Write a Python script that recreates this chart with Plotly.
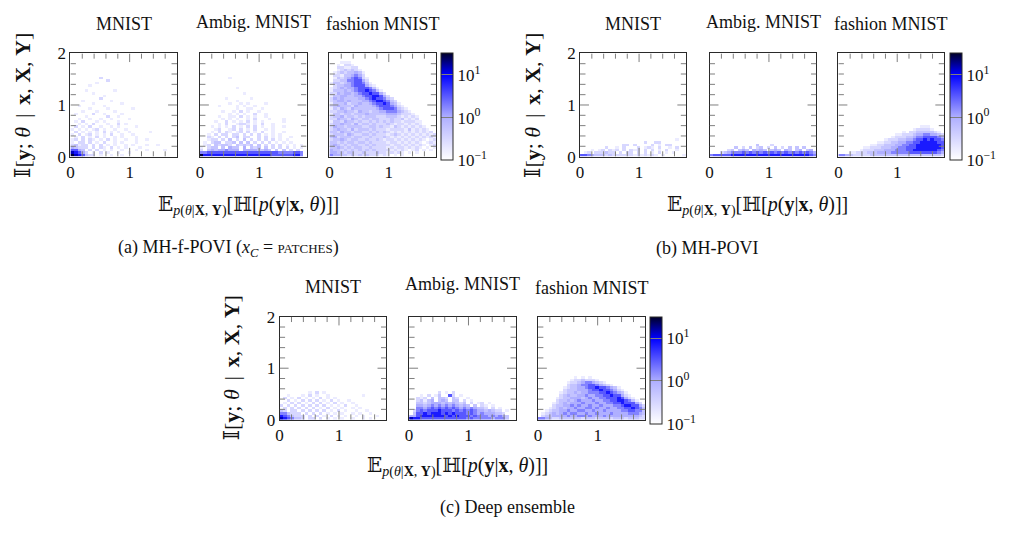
import plotly.graph_objects as go

# ---------------- data ----------------
# 2-D histogram intensity levels. One string per row of bins, TOP row first.
# '.' = empty bin, '1'..'9' = increasing density level (log colour scale).
# x bins are 0.06 wide on [0, 1.8]; y bins are 0.05 tall starting at 0.
DATASETS = ["MNIST", "Ambig. MNIST", "fashion MNIST"]
METHODS = ["(a) MH-f-POVI (<i>x</i><sub><i>C</i></sub> = <span style='font-size:13px'>PATCHES</span>)",
           "(b) MH-POVI", "(c) Deep ensemble"]
CB_TICKVALS = [-1, 0, 1]
CB_TICKTEXT = ["10<sup>−1</sup>", "10<sup>0</sup>", "10<sup>1</sup>"]
X_RANGE = [0, 1.8]
Y_RANGE = [0, 2]
MAJOR_STEP = 1
MINOR_STEP = 0.2
# level -> log10(count)
LEVEL_LOG = {"1": -0.75, "2": -0.5, "3": -0.25, "4": 0.0, "5": 0.25,
             "6": 0.5, "7": 0.85, "8": 1.15, "9": 1.45}

A1 = [
 "..... ...2. ..... ..... ..... .....",
 "..... ..... 2.... ..... ..... .....",
 "..... ..1.. ..... ..... ..... .....",
 "..... 1.... ..... ..... ..... .....",
 "..... ..... ..... ..... ..... .....",
 "....1 ..... ..1.. ..... ..... .....",
 "..... .1... ..... ..... ..... .....",
 "..... ....1 ..... ..... ..... .....",
 "..... ...2. ..... ..... ..... .....",
 "...1. ..... .1... ..... ..... .....",
 "..... .1... ....1 ..... ..... .....",
 "..1.. ....1 ..... ..... ..... .....",
 "..... 1.... 1.... ..1.. ..... .....",
 "...1. ..1.. ..1.. ..... ..... .....",
 ".1... .2..1 ....1 ..... ..... .....",
 "....1 ..... 2..1. ..... ..... .....",
 "..1.. 1..1. .1... .1... ..... .....",
 ".1.2. ..1.1 ...1. ..... ..... .....",
 "..1.1 .2... 1..2. 1.... ..... .....",
 ".2.1. 2..1. .1.1. ...1. ..... .....",
 "1.1.1 .12.1 ..1.. 1.... ..... .....",
 ".2.1. 1.1.2 .1.1. .1... ..1.. .....",
 "1.2.1 2.1.1 .2..1 ..1.. ..... .....",
 ".1.2. 1.2.1 ..1.1 ...1. ..... .....",
 "12.2. 21.1. 2.1.. 1..1. .1... .....",
 "1.22. 2.1.2 ..1.1 ...1. ..... .....",
 "23122 .2.2. 1.1.. 1.1.. .1..1 .....",
 "43222 .2.21 .2.1. 1...1 ..... .....",
 "6643. 2.2.1 .1..1 ...1. .1... .1...",
 "87642 .1.2. 1..1. .1... ..... .....",
 "98763 22.1. .1..1 ..... ..... .....",
]

A2 = [
 "..... ...1. ..... ..... ..... .....",
 "..... ..... ..... ..... ..... .....",
 "..... ..... ..... ..... ..... .....",
 "..... ..... ..... ..... ..... .....",
 "..... ..... 1.... ..... ..... .....",
 "..... ..... ..... ..... ..... .....",
 "..... ..... ..1.. ..... ..... .....",
 "..... ..... ..... ..... ..... .....",
 "..... ..1.. ....1 ..... ..... .....",
 "..... ..... 1.... ..... ..... .....",
 "..... ...1. .1.1. ...1. ..... .....",
 "..... 1.... 1.1.. 1.... ..... .....",
 "..... ..... 1..11 ..1.. ..... .....",
 "..... .1..1 .2.1. .1... ..... .....",
 "..... ...1. 1.1.. 2..1. ..... .....",
 "..... 1..11 .2.1. 1..1. ..... .....",
 "..... .1.1. 1..1. 2...1 ...1. .....",
 "....1 ..2.1 .1.2. 1.1.. ...1. .....",
 "..... 1.2.. 1221. 1.2.. 1.... .....",
 "...1. 1.1.2 .1.2. 2.1.. 1..1. .....",
 "....1 2..12 .2.1. 2..1. 1.... .....",
 "...1. 2.21. 12.2. 1.2.. 1..1. .....",
 "..1.2 .22.2 2.2.2 .2.1. 1.1.. .....",
 "..21. 2.2.2 3.22. .2.2. 1.1.. 1....",
 "..122 .2.3. 2.3.2 .2.2. 2.1.1 .....",
 ".1.23 3.223 .3.3. 2.2.2 .1.1. 1....",
 ".12.3 2332. 32323 .3.2. 2.2.1 .1.1.",
 "1.233 .3.43 3.4.3 23.3. 2.2.2 .1.1.",
 "2.343 44544 4.444 43343 .3.3. 2.2..",
 "55666 66666 66666 66666 66555 5665.",
 "97777 77777 77777 77777 66666 6775.",
]

A3 = [
 "...11 1.... ..... ..... ..... .....",
 "..1.2 21... ..... ..... ..... .....",
 "..221 122.. ..... ..... ..... .....",
 "..123 2321. ..... ..... ..... .....",
 ".1232 33431 ..... ..... ..... .....",
 ".2213 34542 ..... ..... ..... .....",
 ".1323 45652 1.... ..... ..... .....",
 ".2233 55664 2.... ..... ..... .....",
 "13323 45665 31... ..... ..... .....",
 ".2334 45666 421.. ..... ..... .....",
 "12343 44566 6531. ..... ..... .....",
 "13334 34566 76531 ..... ..... .....",
 "22434 43456 67664 2.... ..... .....",
 "13344 33445 66776 42... ..... .....",
 "24343 33344 56766 532.. ..... .....",
 "23443 43334 45677 6532. ..... .....",
 "13334 23343 34566 76431 ..... .....",
 "23433 32433 33456 66542 1.... .....",
 "13243 24333 33345 66653 21... .....",
 "22334 33243 32334 45554 321.. .....",
 "13323 32333 43333 34443 2221. .....",
 "23342 33232 33322 23332 12121 .....",
 "22433 24323 32332 22322 31212 .....",
 "13324 33232 23232 32322 12221 1....",
 "23343 32423 32322 23212 21212 1....",
 "24332 33332 23323 22132 12121 21...",
 "23433 24233 32322 21222 21312 121..",
 "33243 32332 23232 32121 21212 1212.",
 "23332 43223 32322 21232 12121 21212",
 "34233 32332 23222 32121 21212 12121",
 "23343 23322 32232 12212 12121 21.12",
 "33232 33233 23222 21221 21212 1.121",
 "34323 23322 32322 22122 12121 21.12",
 "33432 32332 23222 21212 21212 1.1.1",
 "43323 23232 32322 22121 21.12 .1.1.",
 "44332 33223 22232 21212 1.1.1 .....",
 "54433 23232 32221 21.1. 1.... .....",
]

B1 = [
 "..... ..... ..... ..... ..... ..1..",
 "..... ..... ..... ...2. .22.. .....",
 "..... ..... ..22. 2.... 2.1.2 2....",
 "..... ..2.. 1.2.. .2.12 1.2.. 1.2..",
 "...1. 12.21 2.2.2 12.2. 2.1.2 ..1..",
 ".12.2 22322 .2.22 .2.2. 1.2.1 .1...",
 "66543 33232 22222 12121 21.1. ....1",
]

B2 = [
 "..... ..... ...3. ..2.. ..... .....",
 "..... ..3.2 .3.23 .2.3. 2.3.3 .3...",
 "..... 23.34 3.434 3.343 .43.3 4.34.",
 "...23 45556 56565 65656 56565 65654",
 "56666 67777 77777 77777 77777 77765",
]

B3 = [
 "..... ..... ..... ..... ...11 1....",
 "..... ..... ..... ..... .1222 21...",
 "..... ..... ..... ...1. 22333 3321.",
 "..... ..... ..... .1122 23445 54432",
 "..... ..... ..... 12223 34556 66654",
 "..... ..... ...12 22334 45667 67665",
 "..... ..... .1122 33445 56677 77766",
 "..... ....1 12233 34455 66777 77776",
 "..... ..112 22333 44556 66777 77776",
 "..... .1222 33344 45556 67777 77765",
 "...11 22233 34444 55555 66666 66654",
 "55432 22223 33333 33333 33333 33332",
]

C1 = [
 "..... ...1. 2.1.. ..... ..... .....",
 "..1.. .1.2. 1..1. ..... ...1. .....",
 ".2.1. 2.1.1 .2.1. 1.... ..... .....",
 "..2.1 .2.2. 2.1.2 .1..1 ..... .....",
 ".1.2. 2.1.2 .2.1. 2.1.. 1.... .....",
 "2.2.2 .2.2. 2.2.1 .1.2. .1... .....",
 ".2.2. 2.2.2 .1.2. 1.1.. 1.1.. .....",
 "32.22 .2.2. 2.2.1 .2.1. .1..1 .....",
 "55322 2.2.2 .2.1. 1.1.. 1.1.. 1....",
 "76532 22.2. 2.1.2 .1.1. .1.1. ..1..",
 "87653 32.22 .2.1. 1.1.. 1..1. 1....",
]

C2 = [
 "..... ...2. 1.2.. ..... ..... .....",
 "...1. 2.13. .62.1 ..... ..... .....",
 "..212 .3.33 2.32. .1... ..... .....",
 "..231 34.34 3.33. 2.1.. ..... .....",
 "..332 34443 43432 3.2.1 2.1.. .....",
 "..443 45454 54543 43.3. 21.1. .....",
 "..554 56565 65654 54543 32.2. 1....",
 ".2565 66676 66565 65654 43432 2.1..",
 ".3667 67776 76766 65654 54443 32...",
 "44677 77777 67676 66565 55454 543..",
 "87766 66666 66666 65655 55545 553..",
]

C3 = [
 "..... ..... 1.1.1 ..... ..... .....",
 "..... ....1 22322 21... ..... .....",
 "..... ...12 23455 4321. ..... .....",
 "..... ...23 34556 65432 1.... .....",
 "..... ..123 34456 67665 431.. .....",
 "..... ..233 34445 66766 5421. .....",
 "..... .1233 43445 55667 65431 .....",
 "..... .2343 34454 45566 76642 1....",
 "..... 12334 44345 44556 66764 21...",
 "..... 23343 45444 54455 66776 531..",
 "....1 23434 44544 45445 56676 6642.",
 "....2 33445 45445 44544 45567 76642",
 "...12 34344 54455 45445 44556 67653",
 "..123 34454 45544 54454 44455 66553",
 ".1234 34545 54454 45444 54444 55543",
 ".2334 44454 45545 44454 44444 44432",
 "55432 23333 33233 32333 23332 33322",
]

PANEL_DATA = [[A1, A2, A3], [B1, B2, B3], [C1, C2, C3]]

# ---------------- layout geometry (pixels) ----------------
W, H = 1018, 538
NX, NY = 30, 40
MINOR_LEN_PX, MAJOR_LEN_PX = 5.5, 9
GROUPS = [
    dict(top=46, bottom=153, xs=[(66.7, 173.7), (196.7, 303.7), (326.7, 434.0)], cb=439.0,
         title_y=[16, 13, 16], ylab_x=19, xlab_y=204, cap=(225, 248)),
    dict(top=46, bottom=153, xs=[(578.3, 685.0), (708.3, 815.7), (837.7, 944.0)], cb=950.0,
         title_y=[16, 13, 16], ylab_x=531, xlab_y=204, cap=(706, 248)),
    dict(top=319, bottom=425.7, xs=[(276.7, 384.0), (406.7, 514.0), (536.0, 644.0)], cb=648.7,
         title_y=[288.5, 285, 289.5], ylab_x=228, xlab_y=475, cap=(505, 517)),
]

def fx(px):
    return px / W

def fy(py):
    return 1 - py / H

def to_grid(rows):
    clean = [r.replace(" ", "").ljust(NX, ".")[:NX] for r in rows][::-1]
    z = [[LEVEL_LOG.get(c) for c in r] for r in clean]
    while len(z) < NY:
        z.append([None] * NX)
    return z

def tick_path(wpx, hpx):
    """SVG path (data coordinates) of inward tick marks on all four sides."""
    ux = (X_RANGE[1] - X_RANGE[0]) / wpx
    uy = (Y_RANGE[1] - Y_RANGE[0]) / hpx
    parts = []
    n = int(round((X_RANGE[1] - X_RANGE[0]) / MINOR_STEP))
    for i in range(1, n):
        v = X_RANGE[0] + i * MINOR_STEP
        major = abs(v / MAJOR_STEP - round(v / MAJOR_STEP)) < 1e-9
        L = (MAJOR_LEN_PX if major else MINOR_LEN_PX) * uy
        parts.append(f"M{v:.4f},{Y_RANGE[0]:.4f}L{v:.4f},{Y_RANGE[0] + L:.4f}")
        parts.append(f"M{v:.4f},{Y_RANGE[1]:.4f}L{v:.4f},{Y_RANGE[1] - L:.4f}")
    n = int(round((Y_RANGE[1] - Y_RANGE[0]) / MINOR_STEP))
    for i in range(1, n):
        v = Y_RANGE[0] + i * MINOR_STEP
        major = abs(v / MAJOR_STEP - round(v / MAJOR_STEP)) < 1e-9
        L = (MAJOR_LEN_PX if major else MINOR_LEN_PX) * ux
        parts.append(f"M{X_RANGE[0]:.4f},{v:.4f}L{X_RANGE[0] + L:.4f},{v:.4f}")
        parts.append(f"M{X_RANGE[1]:.4f},{v:.4f}L{X_RANGE[1] - L:.4f},{v:.4f}")
    return " ".join(parts)

CS = [[0.0, "rgb(255,255,255)"], [0.4, "rgb(175,175,255)"],
      [0.8, "rgb(0,0,255)"], [1.0, "rgb(0,0,40)"]]
SERIF = "Liberation Serif"
MATHF = "Liberation Serif, DejaVu Serif, DejaVu Sans, serif"
TICKC = "#7f7f7f"
FRAME = "#2a2a2a"
SP = "\u2009"

fig = go.Figure()
layout = dict(width=W, height=H, margin=dict(l=0, r=0, t=0, b=0), autosize=False,
              paper_bgcolor="white", plot_bgcolor="white", showlegend=False)
annotations = []
shapes = []

def make_colorbar(grp):
    return dict(x=fx(grp["cb"]), xanchor="left", xpad=0, ypad=0,
                y=fy(grp["top"]), yanchor="top", len=grp["bottom"] - grp["top"],
                lenmode="pixels", thickness=12, thicknessmode="pixels",
                outlinecolor=FRAME, outlinewidth=1,
                tickvals=CB_TICKVALS, ticktext=CB_TICKTEXT,
                ticks="inside", ticklen=12, tickcolor=TICKC, tickwidth=1,
                tickfont=dict(family=SERIF, size=17, color="#111"))

idx = 0
for g, grp in enumerate(GROUPS):
    for p in range(3):
        idx += 1
        xl, xr = grp["xs"][p]
        sfx = "" if idx == 1 else str(idx)
        fig.add_trace(go.Heatmap(
            z=to_grid(PANEL_DATA[g][p]), x0=0.03, dx=0.06, y0=0.025, dy=0.05,
            xaxis=f"x{sfx}", yaxis=f"y{sfx}", colorscale=CS, zmin=-1, zmax=1.5,
            showscale=(p == 2), colorbar=make_colorbar(grp)))
        shapes.append(dict(type="path", xref=f"x{sfx}", yref=f"y{sfx}", layer="above",
                           path=tick_path(xr - xl, grp["bottom"] - grp["top"]),
                           line=dict(color=TICKC, width=1)))
        common = dict(showgrid=False, zeroline=False, showline=True, linecolor=FRAME,
                      linewidth=1, mirror=True, ticks="", layer="above traces",
                      tickmode="linear", tick0=0, dtick=MAJOR_STEP,
                      tickfont=dict(family=SERIF, size=17, color="#111"))
        layout[f"xaxis{sfx}"] = dict(common, domain=[fx(xl), fx(xr)], range=X_RANGE,
                                     anchor=f"y{sfx}", fixedrange=True)
        layout[f"yaxis{sfx}"] = dict(common, domain=[fy(grp["bottom"]), fy(grp["top"])],
                                     range=Y_RANGE, anchor=f"x{sfx}", fixedrange=True,
                                     showticklabels=(p == 0))
        annotations.append(dict(text=DATASETS[p], x=fx((xl + xr) / 2), y=fy(grp["title_y"][p]),
                                xref="paper", yref="paper", showarrow=False,
                                xanchor="center", yanchor="middle",
                                font=dict(family=SERIF, size=18, color="#111")))
    cy = (grp["top"] + grp["bottom"]) / 2
    annotations.append(dict(
        text=f"𝕀[<b>y</b>; <i>θ</i>{SP}{SP}|{SP}{SP}<b>x</b>, <b>X</b>, <b>Y</b>]",
        x=fx(grp["ylab_x"]), y=fy(cy), xref="paper", yref="paper", showarrow=False,
        textangle=-90, xanchor="center", yanchor="middle",
        font=dict(family=MATHF, size=22, color="#111")))
    cx = (grp["xs"][0][0] + grp["xs"][2][1]) / 2
    annotations.append(dict(
        text="𝔼<sub><i>p</i>(<i>θ</i>|<b>X</b>, <b>Y</b>)</sub>[ℍ[<i>p</i>(<b>y</b>|<b>x</b>, <i>θ</i>)]]",
        x=fx(cx - 5), y=fy(grp["xlab_y"]), xref="paper", yref="paper", showarrow=False,
        xanchor="center", yanchor="middle",
        font=dict(family=MATHF, size=20, color="#111")))
    annotations.append(dict(
        text=METHODS[g], x=fx(grp["cap"][0]), y=fy(grp["cap"][1]), xref="paper", yref="paper",
        showarrow=False, xanchor="center", yanchor="middle",
        font=dict(family=SERIF, size=18, color="#111")))

layout["annotations"] = annotations
layout["shapes"] = shapes
fig.update_layout(**layout)
fig.write_html("out.html", config={"displayModeBar": False},
               post_script="document.body.style.margin='0px';")
